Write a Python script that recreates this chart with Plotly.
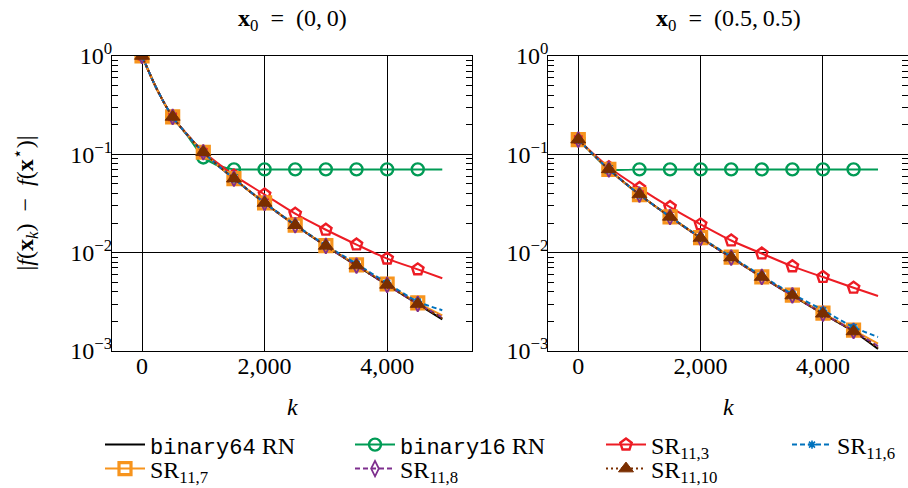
import plotly.graph_objects as go

# ---------------- data ----------------
K_LEFT = [0, 250, 500, 750, 1000, 1250, 1500, 2000, 2500, 3000, 3500, 4000, 4500, 4900]
K_RIGHT = [0, 250, 500, 1000, 1500, 2000, 2500, 3000, 3500, 4000, 4500, 4900]
MARKER_K = [0, 500, 1000, 1500, 2000, 2500, 3000, 3500, 4000, 4500]

B64_L = [1.0, 0.45, 0.24, 0.155, 0.105, 0.076, 0.0565, 0.032, 0.019, 0.0117, 0.0074, 0.0047, 0.0030, 0.0021]
B16_L = [1.0, 0.45, 0.24, 0.152, 0.093, 0.0765, 0.0703, 0.0703, 0.0703, 0.0703, 0.0703, 0.0703, 0.0703, 0.0703]
SR3_L = [1.0, 0.45, 0.24, 0.156, 0.106, 0.08, 0.061, 0.039, 0.0249, 0.0171, 0.0121, 0.0087, 0.00676, 0.0055]
SR6_L = [1.0, 0.45, 0.24, 0.155, 0.105, 0.076, 0.0567, 0.0322, 0.0192, 0.0119, 0.0077, 0.0049, 0.00318, 0.0026]
SR7_L = [1.0, 0.45, 0.24, 0.155, 0.105, 0.076, 0.0566, 0.0321, 0.0191, 0.0118, 0.0075, 0.0048, 0.00308, 0.0023]
SR8_L = [1.0, 0.45, 0.24, 0.155, 0.105, 0.076, 0.0565, 0.032, 0.019, 0.0117, 0.0074, 0.0047, 0.00302, 0.0022]
SR10_L = [1.0, 0.45, 0.24, 0.155, 0.105, 0.076, 0.0565, 0.032, 0.019, 0.0117, 0.0074, 0.0047, 0.0030, 0.00215]

B64_R = [0.141, 0.099, 0.0703, 0.039, 0.0231, 0.0141, 0.0089, 0.00565, 0.00366, 0.00239, 0.00158, 0.00105]
B16_R = [0.141, 0.099, 0.0703, 0.0703, 0.0703, 0.0703, 0.0703, 0.0703, 0.0703, 0.0703, 0.0703, 0.0703]
SR3_R = [0.141, 0.101, 0.074, 0.0454, 0.0291, 0.0194, 0.0133, 0.0098, 0.00726, 0.00565, 0.0044, 0.00362]
SR6_R = [0.141, 0.099, 0.0703, 0.039, 0.0232, 0.0143, 0.0091, 0.0058, 0.0038, 0.0026, 0.00175, 0.00139]
SR7_R = [0.141, 0.099, 0.0703, 0.039, 0.0231, 0.0142, 0.0090, 0.00568, 0.0037, 0.00243, 0.00163, 0.00119]
SR8_R = [0.141, 0.099, 0.0703, 0.039, 0.0231, 0.0141, 0.0089, 0.00566, 0.00367, 0.0024, 0.0016, 0.00112]
SR10_R = [0.141, 0.099, 0.0703, 0.039, 0.0231, 0.0141, 0.0089, 0.00565, 0.00366, 0.00239, 0.00158, 0.00108]

MONO = '<span style="font-family:Liberation Mono;font-size:22px">{}</span>'
NAMES = [
    MONO.format('binary64') + ' RN',
    MONO.format('binary16') + ' RN',
    'SR<sub>11,3</sub>',
    'SR<sub>11,6</sub>',
    'SR<sub>11,7</sub>',
    'SR<sub>11,8</sub>',
    'SR<sub>11,10</sub>',
]
Y_TICKS = [1e-3, 1e-2, 1e-1, 1]
Y_TICKTEXT = ['10<sup>\u22123</sup>', '10<sup>\u22122</sup>', '10<sup>\u22121</sup>', '10<sup>0</sup>']
X_TICKS = [0, 2000, 4000]
X_TICKTEXT = ['0', '2,000', '4,000']
TITLES = ['<b>x</b><sub>0</sub>\u2002=\u2002(0,\u20090)', '<b>x</b><sub>0</sub>\u2002=\u2002(0.5,\u20090.5)']

# ---------------- styles ----------------
FONT = 'Liberation Serif'
STYLES = [
    dict(color='#000000', dash='solid', symbol=None, size=0, lw=0, smooth=0.8),
    dict(color='#009B55', dash='solid', symbol='circle-open', size=12, lw=2.4, smooth=0.5),
    dict(color='#ED1C24', dash='solid', symbol='pentagon-open', size=12, lw=2.4, smooth=0.8),
    dict(color='#0072BD', dash='5px,3px', symbol='asterisk-open', size=7, lw=1.6, smooth=0.8),
    dict(color='#F7941D', dash='solid', symbol='square-open', size=12, lw=3.2, smooth=0.8),
    dict(color='#7E2F8E', dash='5px,3px', symbol='diamond-tall-open', size=11, lw=1.8, smooth=0.8),
    dict(color='#7A2E00', dash='2px,3px', symbol='triangle-up', size=13, lw=1, smooth=0.8),
]
LEGEND_IDS = ['legend', 'legend2', 'legend3', 'legend4', 'legend5', 'legend6', 'legend7']
# draw order (bottom -> top)
DRAW_ORDER = [0, 1, 2, 4, 5, 3, 6]

fig = go.Figure()

panels = [
    ('x', 'y', K_LEFT, [B64_L, B16_L, SR3_L, SR6_L, SR7_L, SR8_L, SR10_L], True),
    ('x2', 'y2', K_RIGHT, [B64_R, B16_R, SR3_R, SR6_R, SR7_R, SR8_R, SR10_R], False),
]
for xa, ya, ks, series, show in panels:
    sel = [i for i, k in enumerate(ks) if k in MARKER_K]
    for idx in DRAW_ORDER:
        st = STYLES[idx]
        ys = series[idx]
        tr = dict(
            x=ks, y=ys, xaxis=xa, yaxis=ya, name=NAMES[idx],
            legend=LEGEND_IDS[idx], showlegend=show,
            line=dict(color=st['color'], width=2, dash=st['dash'], shape='spline', smoothing=st['smooth']),
            hoverinfo='skip',
        )
        if st['symbol'] is None:
            tr['mode'] = 'lines'
        else:
            tr['mode'] = 'lines+markers'
            tr['marker'] = dict(symbol=st['symbol'], size=st['size'], color=st['color'],
                                line=dict(color=st['color'], width=st['lw']))
            tr['selectedpoints'] = sel
            tr['selected'] = dict(marker=dict(opacity=1))
            tr['unselected'] = dict(marker=dict(opacity=0))
        fig.add_trace(go.Scatter(**tr))

W, H = 908, 488
ML, MR, MT, MB = 112, 0, 56, 137
PW = W - ML - MR
PH = H - MT - MB
dom_left = [0, (472.3 - ML) / PW]
dom_right = [(548.3 - ML) / PW, 1.0]

minor_vals = [m * 10 ** e for e in (-3, -2, -1) for m in range(2, 10)]

def yaxis(anchor):
    return dict(
        type='log', range=[-3, 0], anchor=anchor,
        tickmode='array', tickvals=Y_TICKS, ticktext=Y_TICKTEXT,
        showgrid=True, gridcolor='black', gridwidth=1,
        showline=True, linecolor='black', linewidth=1.3, mirror='allticks',
        ticks='', ticklabelstandoff=-6,
        minor=dict(ticks='inside', ticklen=6, tickcolor='black', tickwidth=1,
                   tickmode='array', tickvals=minor_vals, showgrid=False),
        tickfont=dict(family=FONT, size=24, color='black'),
        zeroline=False,
    )

def xaxis(anchor, dom):
    return dict(
        domain=dom, range=[-490, 5390], anchor=anchor,
        tickmode='array', tickvals=X_TICKS, ticktext=X_TICKTEXT,
        showgrid=True, gridcolor='black', gridwidth=1,
        showline=True, linecolor='black', linewidth=1.3, mirror=True,
        ticks='', ticklabelstandoff=-7,
        tickfont=dict(family=FONT, size=24, color='black'),
        zeroline=False,
    )

legend_pos = [  # (x px of item start, y px center)
    (100, 445), (350, 445), (601, 445), (787, 445),
    (100, 469), (350, 469), (601, 469),
]
legends = {}
for lid, (px, py) in zip(LEGEND_IDS, legend_pos):
    legends[lid] = dict(
        xref='container', yref='container', x=px / W, y=1 - py / H,
        xanchor='left', yanchor='middle', orientation='v',
        bgcolor='rgba(0,0,0,0)', borderwidth=0, itemwidth=40,
        font=dict(family=FONT, size=24, color='black'),
        tracegroupgap=0,
    )

annotations = []
for dom, t in zip([dom_left, dom_right], TITLES):
    annotations.append(dict(
        text=t, x=(dom[0] + dom[1]) / 2, y=1 + (MT - 20) / PH, xref='paper', yref='paper',
        showarrow=False, xanchor='center', yanchor='middle',
        font=dict(family=FONT, size=24, color='black')))
    annotations.append(dict(
        text='<i>k</i>', x=(dom[0] + dom[1]) / 2, y=-(407 - MT - PH) / PH, xref='paper', yref='paper',
        showarrow=False, xanchor='center', yanchor='middle',
        font=dict(family=FONT, size=24, color='black')))
annotations.append(dict(
    text='|<i>f</i>(<b>x</b><sub><i>k</i></sub>)\u2002\u2212\u2002<i>f</i>(<b>x</b><sup>\u22c6</sup>)|',
    x=(24 - ML) / PW, y=0.5, xref='paper', yref='paper', textangle=-90,
    showarrow=False, xanchor='center', yanchor='middle',
    font=dict(family=FONT, size=24, color='black')))

fig.update_layout(
    width=W, height=H,
    margin=dict(l=ML, r=MR, t=MT, b=MB, autoexpand=False),
    paper_bgcolor='white', plot_bgcolor='white',
    xaxis=xaxis('y', dom_left), yaxis=yaxis('x'),
    xaxis2=xaxis('y2', dom_right), yaxis2=yaxis('x2'),
    annotations=annotations,
    font=dict(family=FONT, size=22, color='black'),
    **legends,
)

fig.write_html('out.html', config={'displayModeBar': False},
               post_script="document.body.style.margin='0';document.body.style.overflow='hidden';")
